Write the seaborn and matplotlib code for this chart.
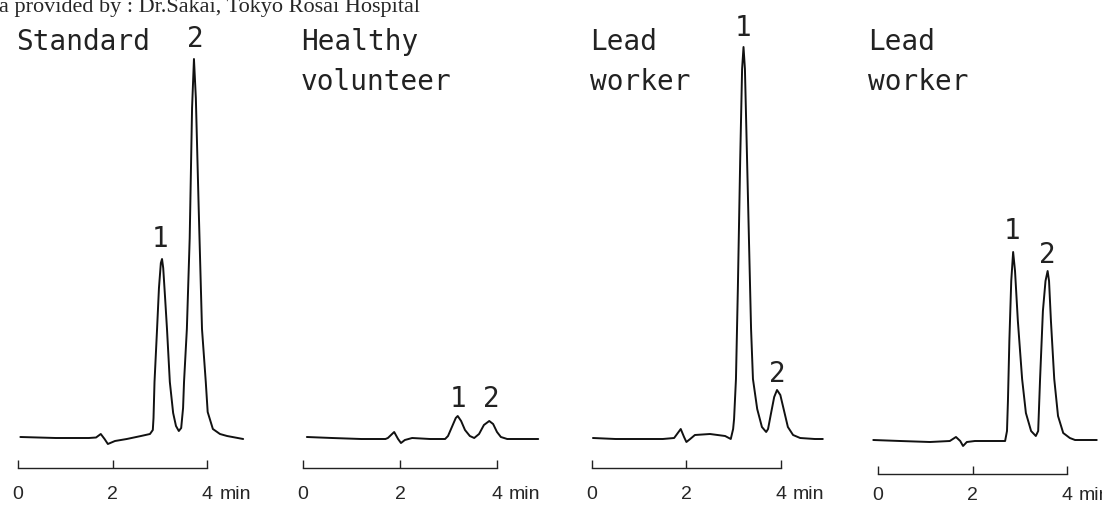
import matplotlib
matplotlib.use('Agg')

import numpy as np
import pandas as pd
import seaborn as sns
import matplotlib.pyplot as plt

# retention time (min) and detector response (arbitrary units, baseline = 0)
std_time = [0.05, 0.8, 1.5, 1.65, 1.75, 1.83, 1.9, 2.05, 2.3, 2.6,
            2.79, 2.85, 2.865, 2.886, 2.94, 2.98, 3.02, 3.045, 3.07, 3.11,
            3.15, 3.21, 3.28, 3.34, 3.40, 3.45, 3.49, 3.51, 3.57, 3.63,
            3.68, 3.72, 3.76, 3.82, 3.89, 3.97, 4.01, 4.12, 4.27, 4.42, 4.76]
std_resp = [1, 0, 0, 0.5, 4, -1, -6, -3, -1, 2,
            4, 8, 20, 56, 109, 150, 175, 179, 170, 140,
            109, 56, 25, 12, 7, 10, 30, 56, 109, 200,
            330, 379, 340, 230, 109, 56, 26, 9, 4, 2, -1]

healthy_time = [0.08, 0.6, 1.2, 1.7, 1.75, 1.88, 1.96, 2.02, 2.1, 2.25,
                2.62, 2.93, 2.99, 3.07, 3.15, 3.19, 3.26, 3.34, 3.44, 3.53,
                3.63, 3.73, 3.84, 3.92, 4.0, 4.08, 4.21, 4.85]
healthy_resp = [2, 1, 0, 0, 1, 7, 0, -4, -1, 1,
                0, 0, 3, 12, 21, 23, 18, 9, 3, 1,
                5, 14, 18, 15, 7, 2, 0, 0]

lead1_time = [0.02, 0.5, 1.5, 1.74, 1.88, 1.95, 2.0, 2.08, 2.18, 2.5,
              2.82, 2.94, 2.99, 3.01, 3.05, 3.09, 3.14, 3.18, 3.21, 3.24,
              3.28, 3.33, 3.37, 3.41, 3.50, 3.60, 3.69, 3.73, 3.79, 3.86,
              3.92, 3.99, 4.07, 4.15, 4.26, 4.41, 4.72, 4.89]
lead1_resp = [1, 0, 0, 1, 10, 2, -3, 0, 4, 5,
              3, 0, 10, 20, 60, 150, 280, 370, 392, 370,
              290, 190, 110, 60, 30, 12, 7, 10, 25, 42,
              49, 44, 28, 12, 4, 1, 0, 0]

lead2_time = [-0.1, 0.47, 1.1, 1.52, 1.65, 1.74, 1.8, 1.88, 2.05, 2.69,
              2.73, 2.75, 2.78, 2.82, 2.86, 2.90, 2.96, 3.05, 3.13, 3.24,
              3.34, 3.39, 3.43, 3.49, 3.545, 3.59, 3.62, 3.66, 3.73, 3.81,
              3.92, 4.06, 4.17, 4.63]
lead2_resp = [1, 0, -1, 0, 4, 0, -5, -1, 0, 0,
              10, 40, 100, 160, 189, 170, 120, 62, 28, 10,
              5, 10, 62, 130, 160, 170, 160, 120, 62, 25,
              8, 3, 1, 1]

titles = [['Standard'], ['Healthy', 'volunteer'], ['Lead', 'worker'], ['Lead', 'worker']]
peak_times = [[3.045, 3.72], [3.19, 3.84], [3.21, 3.92], [2.86, 3.59]]
peak_names = ['1', '2']

W, H = 1102, 506
XMIN, XMAX = -0.3, 5.2

# layout in pixels: x of t=0, px per min, baseline y, scale bar y, tick label pad (pt)
layout = [
    dict(x0=18, ppm=47.3, base=439, bar=469, pad=12, tx=16),
    dict(x0=303, ppm=48.5, base=440, bar=469, pad=12, tx=301),
    dict(x0=592, ppm=47.2, base=440, bar=469, pad=12, tx=590),
    dict(x0=878, ppm=47.25, base=442, bar=475, pad=9, tx=868),
]
# label offsets above the apex (px)
label_offsets = [[(-2, 13), (1, 13)], [(0, 10), (2, 15)], [(0, 12), (0, 9)], [(-1, 14), (0, 9)]]

sns.set_style('white')
plt.rcParams['font.family'] = ['Liberation Sans', 'DejaVu Sans']

fig = plt.figure(figsize=(W / 100, H / 100), dpi=100)

traces = [(std_time, std_resp), (healthy_time, healthy_resp),
          (lead1_time, lead1_resp), (lead2_time, lead2_resp)]

mono = 'DejaVu Sans Mono'

for i, (t, r) in enumerate(traces):
    lay = layout[i]
    left = lay['x0'] + XMIN * lay['ppm']
    ax = fig.add_axes([left / W, 1 - lay['bar'] / H, (XMAX - XMIN) * lay['ppm'] / W, lay['bar'] / H])
    df = pd.DataFrame({'time': t, 'response': r})
    sns.lineplot(data=df, x='time', y='response', ax=ax, color='#111111', lw=1.4,
                 estimator=None, sort=False)
    ax.set_xlim(XMIN, XMAX)
    ax.set_ylim(-(lay['bar'] - lay['base']), lay['base'])
    ax.patch.set_visible(False)
    for s in ['left', 'right', 'top']:
        ax.spines[s].set_visible(False)
    ax.spines['bottom'].set_bounds(0, 4)
    ax.spines['bottom'].set_linewidth(1.0)
    ax.spines['bottom'].set_color('#222222')
    ax.set_xticks([0, 2, 4])
    ax.set_xticklabels(['0', '2', '4'])
    ax.tick_params(axis='x', direction='in', length=6, width=1.0, color='#222222',
                   pad=lay['pad'], labelsize=14, bottom=True)
    ax.set_yticks([])
    ax.set_xlabel('')
    ax.set_ylabel('')
    ax.annotate('min', xy=(4, 0), xycoords=('data', 'axes fraction'),
                xytext=(12, -lay['pad'] * 100 / 72), textcoords='offset pixels',
                ha='left', va='top', fontsize=14, annotation_clip=False)

    # peak numbers above the apexes
    tt = np.array(t)
    rr = np.array(r)
    for k, tp in enumerate(peak_times[i]):
        apex = rr[np.argmin(np.abs(tt - tp))]
        dx, dy = label_offsets[i][k]
        ax.annotate(peak_names[k], xy=(tp, apex), xytext=(dx, dy), textcoords='offset pixels',
                    ha='center', va='baseline', fontsize=20, family=mono, color='#222222')

    # sample name
    for j, line in enumerate(titles[i]):
        fig.text(lay['tx'] / W, 1 - (50 + 40 * j) / H, line, ha='left', va='baseline',
                 fontsize=20, family=mono, color='#222222')

fig.text(-33 / W, 1 - 12 / H, 'Data provided by : Dr.Sakai, Tokyo Rosai Hospital',
         ha='left', va='baseline', fontsize=16, family='Liberation Serif')

fig.savefig('out.png', dpi=100)
